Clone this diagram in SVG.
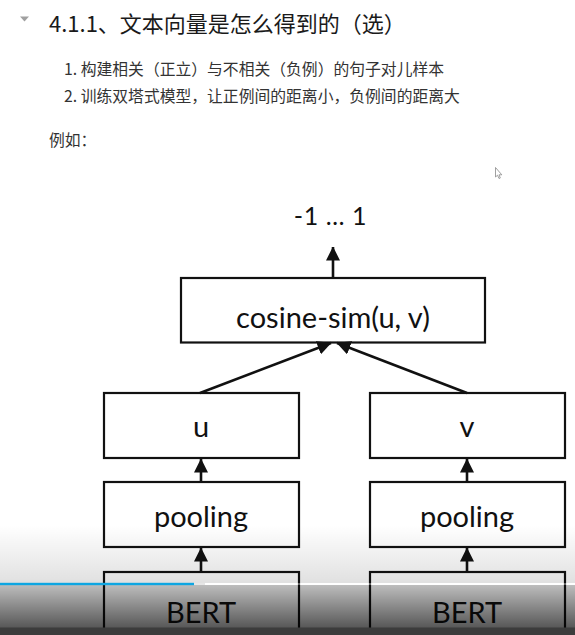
<svg xmlns="http://www.w3.org/2000/svg" width="575" height="635" viewBox="0 0 575 635">
<style>
.box{fill:#fff;stroke:#111;stroke-width:2.2}
.lbl{font-family:Lato,"Open Sans",sans-serif;font-size:29px;fill:#111;text-anchor:middle}
.conn{stroke:#111;stroke-width:2.6;fill:none;marker-end:url(#ah)}
.cjk{font-family:"Noto Sans CJK SC","Noto Sans",sans-serif}
</style>
<defs>
<marker id="ah" viewBox="0 0 14 14" refX="13.5" refY="7" markerWidth="14" markerHeight="14" markerUnits="userSpaceOnUse" orient="auto">
<path d="M0,0 L14,7 L0,14 z" fill="#111"/>
</marker>
<linearGradient id="g1" x1="0" y1="0" x2="0" y2="1">
<stop offset="0" stop-color="#000" stop-opacity="0"/>
<stop offset="1" stop-color="#000" stop-opacity="0.12"/>
</linearGradient>
<linearGradient id="g2" x1="0" y1="0" x2="0" y2="1">
<stop offset="0" stop-color="#000" stop-opacity="0.26"/>
<stop offset="1" stop-color="#000" stop-opacity="0.66"/>
</linearGradient>
</defs>
<rect width="575" height="635" fill="#fff"/>
<g id="header">
<path d="M20,16.5 L29,16.5 L24.5,21.5 z" fill="#a0a0a0"/>
<text class="cjk" x="49" y="32" font-size="22" fill="#1a1a1a">4.1.1、文本向量是怎么得到的（选）</text>
<text class="cjk" x="64" y="75" font-size="15.8" fill="#333">1. 构建相关（正立）与不相关（负例）的句子对儿样本</text>
<text class="cjk" x="64" y="101.5" font-size="15.8" fill="#333">2. 训练双塔式模型，让正例间的距离小，负例间的距离大</text>
<text class="cjk" x="49" y="146" font-size="15.8" fill="#333">例如：</text>
</g>
<g id="cursor">
<path d="M495.5,167.5 L495.5,177 L497.5,175.2 L499,178.5 L500.3,178 L499,174.8 L501.8,174.8 z" fill="#fff" stroke="#888" stroke-width="0.8"/>
</g>
<g id="output">
<text class="lbl" x="330.5" y="225" style="font-size:25px;letter-spacing:0.6px">-1 … 1</text>
</g>
<g id="cosine">
<rect class="box" x="181" y="278" width="304" height="64.5"/>
<text class="lbl" x="333" y="328">cosine-sim(u, v)</text>
</g>
<g id="u">
<rect class="box" x="104" y="393" width="195" height="65"/>
<text class="lbl" x="201" y="437">u</text>
</g>
<g id="v">
<rect class="box" x="370" y="393" width="195" height="65"/>
<text class="lbl" x="467" y="437">v</text>
</g>
<g id="pooling1">
<rect class="box" x="104" y="482" width="195" height="65"/>
<text class="lbl" x="201" y="527">pooling</text>
</g>
<g id="pooling2">
<rect class="box" x="370" y="482" width="195" height="65"/>
<text class="lbl" x="467" y="527">pooling</text>
</g>
<g id="bert1">
<rect class="box" x="104" y="572" width="195" height="80"/>
<text class="lbl" x="201" y="623">BERT</text>
</g>
<g id="bert2">
<rect class="box" x="370" y="572" width="195" height="80"/>
<text class="lbl" x="467" y="623">BERT</text>
</g>
<g id="connectors">
<line class="conn" x1="333" y1="278" x2="333" y2="247"/>
<line class="conn" x1="200" y1="393" x2="331" y2="343"/>
<line class="conn" x1="467" y1="393" x2="337" y2="343"/>
<line class="conn" x1="201" y1="482" x2="201" y2="459"/>
<line class="conn" x1="467" y1="482" x2="467" y2="459"/>
<line class="conn" x1="201" y1="572" x2="201" y2="548"/>
<line class="conn" x1="467" y1="572" x2="467" y2="548"/>
</g>
<g id="player-overlay">
<rect x="0" y="525" width="575" height="58" fill="url(#g1)"/>
<rect x="0" y="585" width="575" height="43" fill="url(#g2)"/>
<rect x="0" y="627.5" width="575" height="8" fill="#3c3c3c"/>
<rect x="0" y="583" width="575" height="2" fill="#fff" fill-opacity="0.35"/>
<rect x="194" y="583" width="11" height="2" fill="#e6e6e6"/>
<rect x="0" y="582.8" width="194" height="2.4" fill="#0ea6e2"/>
</g>
</svg>
